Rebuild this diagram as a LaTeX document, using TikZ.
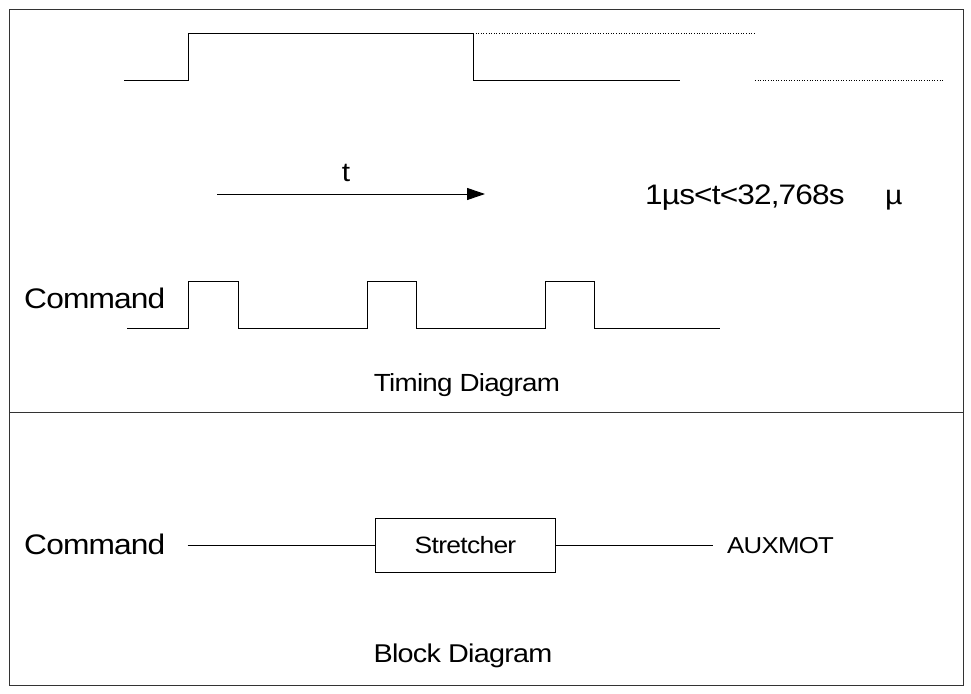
\documentclass[tikz,border=0pt]{standalone}
\usepackage{fontspec}
\setmainfont[FakeStretch=1.12,LetterSpace=-3]{Liberation Sans}
\usetikzlibrary{positioning,arrows.meta}
\tikzstyle{wave} = [draw=black,
					line width=0.9pt]
\tikzstyle{wave_dotted} = [draw=black,
						   line width=0.6pt,
						   dotted]
\tikzstyle{frame_line} = [draw=black!80,
						  line width=0.8pt]
\tikzstyle{label_big} = [inner sep=0pt,
						 anchor=base west,
						 font=\fontsize{28.3}{28.3}\selectfont]
\tikzstyle{label_small} = [inner sep=0pt,
						   anchor=base,
						   font=\fontsize{24.8}{24.8}\selectfont]
\tikzstyle{block} = [draw=black,
					 line width=0.8pt,
					 minimum width=180pt,
					 minimum height=54pt,
					 align=center,
					 font=\fontsize{23.6}{23.6}\selectfont]

\begin{document}
\begin{tikzpicture}[x=1pt,y=-1pt]

	\useasboundingbox (0,0) rectangle (971,693);
	\fill[white] (0,0) rectangle (971,693);

	%%%%%%%%%
	% FRAME %
	%%%%%%%%%
	\draw[frame_line] (9,9) rectangle (963,685);
	\draw[frame_line] (9,412) -- (963,412);

	%%%%%%%%%%%%%%%%%%
	% TIMING DIAGRAM %
	%%%%%%%%%%%%%%%%%%
	\draw[wave] (124,80) -- (188,80) -- (188,33) -- (473,33) -- (473,80) -- (680,80);
	\draw[wave_dotted] (473,33) -- (755,33);
	\draw[wave_dotted] (755,80) -- (943,80);

	\node[label_small, font=\fontsize{26.7}{26.7}\selectfont] (t) at (346,181) {t};
	\draw[line width=1pt,-{Triangle[length=18pt,width=12pt]}] (217,194) -- (485,194);
	\node[label_big, font=\fontsize{28.2}{28.2}\selectfont] (range) at (645,204) {1µs<t<32,768s};
	\node[label_big, font=\fontsize{27}{27}\selectfont] (mu) at (885,204) {µ};

	\node[label_big] (cmda) at (24,308) {Command};
	\draw[wave] (127,328) -- (188,328) -- (188,281) -- (238,281) -- (238,328)
		-- (367,328) -- (367,281) -- (416,281) -- (416,328)
		-- (545,328) -- (545,281) -- (594,281) -- (594,328) -- (720,328);

	\node[label_small] (timing) at (467,391) {Timing Diagram};

	%%%%%%%%%%%%%%%%%
	% BLOCK DIAGRAM %
	%%%%%%%%%%%%%%%%%
	\node[label_big] (cmdb) at (24,554) {Command};
	\node[block] (stretch) at (465.5,545) {Stretcher};
	\node[label_big, font=\fontsize{23}{23}\selectfont] (auxmot) at (727,553) {AUXMOT};
	\draw[wave, line width=0.8pt, shorten <=22pt] (stretch.west -| cmdb.east) -- (stretch.west);
	\draw[wave, line width=0.8pt, shorten >=14pt] (stretch.east) -- (stretch.east -| auxmot.west);

	\node[label_small, font=\fontsize{25.7}{25.7}\selectfont] (block) at (463,662) {Block Diagram};

\end{tikzpicture}
\end{document}
